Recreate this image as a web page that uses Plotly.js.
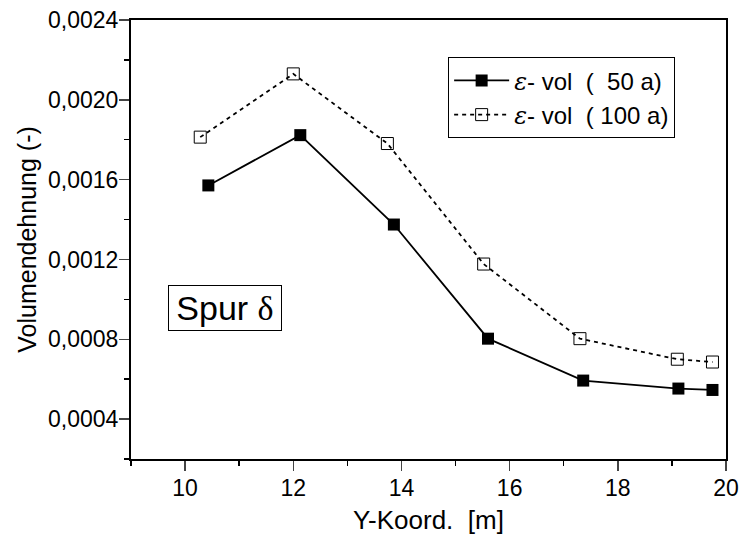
<!DOCTYPE html>
<html>
<head>
<meta charset="utf-8">
<script src="https://cdn.plot.ly/plotly-3.0.1.min.js"></script>
<style>html,body{margin:0;padding:0;background:#fff;}#chart{width:741px;height:543px;}</style>
</head>
<body>
<div id="chart"></div>
<script>
const x50 = [10.43, 12.13, 13.86, 15.60, 17.36, 19.12, 19.75];
const y50 = [0.001571, 0.001823, 0.001375, 0.000803, 0.000593, 0.000553, 0.000546];
const x100 = [10.28, 12.00, 13.74, 15.52, 17.30, 19.10, 19.75];
const y100 = [0.001813, 0.002130, 0.001781, 0.001177, 0.000803, 0.000700, 0.000686];
const name50 = '<span style="font-family:\'DejaVu Serif\', serif;font-style:italic">ε</span>- vol\u00a0\u00a0(\u00a0\u00a050 a)';
const name100 = '<span style="font-family:\'DejaVu Serif\', serif;font-style:italic">ε</span>- vol\u00a0\u00a0(\u00a0100 a)';
const xTitle = 'Y-Koord.\u00a0\u00a0[m]';
const yTitle = 'Volumendehnung (-)';
const labelText = 'Spur <span style="font-family:\'Liberation Serif\', serif">δ</span>';

const traces = [
  {x: x50, y: y50, name: name50, type: 'scatter', mode: 'lines+markers',
   line: {color: '#000', width: 1.8},
   marker: {symbol: 'square', size: 12, color: '#000', line: {color: '#000', width: 0}}},
  {x: x100, y: y100, name: name100, type: 'scatter', mode: 'lines+markers',
   line: {color: '#000', width: 1.8, dash: '4px,4px'},
   marker: {symbol: 'square-open', size: 12, color: '#000', line: {color: '#000', width: 1}}}
];

const font = {family: '"Liberation Sans", Arial, sans-serif', color: '#000'};

const layout = {
  width: 741, height: 543,
  margin: {l: 131, r: 15, t: 20, b: 84},
  paper_bgcolor: '#fff', plot_bgcolor: '#fff',
  separators: ',.',
  font: Object.assign({size: 23}, font),
  showlegend: true,
  legend: {x: 0.533, y: 0.915, xanchor: 'left', yanchor: 'top',
    bgcolor: '#fff', bordercolor: '#000', borderwidth: 1, itemwidth: 55,
    font: Object.assign({size: 24}, font), tracegroupgap: 0},
  xaxis: {range: [9, 20], tick0: 0, dtick: 2, ticks: 'outside', ticklen: 10, tickwidth: 1.5,
    ticklabelstandoff: -3,
    showline: true, linecolor: '#000', linewidth: 2, mirror: true, showgrid: false, zeroline: false,
    tickfont: Object.assign({size: 23}, font),
    minor: {dtick: 1, ticks: 'outside', ticklen: 5, tickwidth: 1.5, tickcolor: '#000', showgrid: false},
    title: {text: xTitle, font: Object.assign({size: 26}, font), standoff: 11}},
  yaxis: {range: [0.0002, 0.0024], tick0: 0, dtick: 0.0004, tickformat: '.4f', ticks: 'outside', ticklen: 10, tickwidth: 1.5,
    ticklabelstandoff: -4,
    showline: true, linecolor: '#000', linewidth: 2, mirror: true, showgrid: false, zeroline: false,
    tickfont: Object.assign({size: 23}, font),
    minor: {dtick: 0.0002, ticks: 'outside', ticklen: 5, tickwidth: 1.5, tickcolor: '#000', showgrid: false},
    title: {text: yTitle, font: Object.assign({size: 25}, font), standoff: 4}},
  annotations: [{x: 10.73, y: 0.000956, xref: 'x', yref: 'y', text: labelText, showarrow: false,
    width: 112, height: 44,
    font: Object.assign({size: 34}, font), bordercolor: '#000', borderwidth: 1, borderpad: 0, bgcolor: '#fff'}]
};

Plotly.newPlot('chart', traces, layout, {displayModeBar: false, staticPlot: true});
</script>
</body>
</html>
